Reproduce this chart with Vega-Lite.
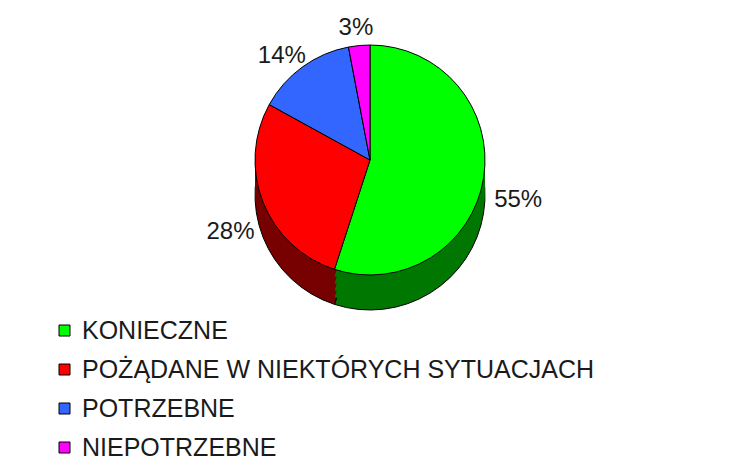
{
  "$schema": "https://vega.github.io/schema/vega-lite/v6.json",
  "width": 740,
  "height": 320,
  "padding": 0,
  "background": "white",
  "config": {"view": {"stroke": null}},
  "data": {
    "values": [
      {"cat": "KONIECZNE", "value": 55, "label": "55%"},
      {"cat": "POŻĄDANE W NIEKTÓRYCH SYTUACJACH", "value": 28, "label": "28%"},
      {"cat": "POTRZEBNE", "value": 14, "label": "14%"},
      {"cat": "NIEPOTRZEBNE", "value": 3, "label": "3%"}
    ]
  },
  "encoding": {
    "theta": {"field": "value", "type": "quantitative", "stack": true},
    "order": {"field": "value", "type": "quantitative", "sort": "descending"}
  },
  "resolve": {"scale": {"color": "independent"}, "legend": {"color": "independent"}},
  "layer": [
    {
      "mark": {"type": "arc", "radius": 115, "yOffset": 35, "stroke": "black", "strokeWidth": 1},
      "encoding": {"color": {"field": "cat", "type": "nominal", "scale": {"domain": ["KONIECZNE", "POŻĄDANE W NIEKTÓRYCH SYTUACJACH", "POTRZEBNE", "NIEPOTRZEBNE"], "range": ["#007700", "#770000", "#1a3380", "#800080"]}, "legend": null}}
    },
    {
      "mark": {"type": "arc", "radius": 115, "yOffset": 28, "strokeWidth": 0},
      "encoding": {"color": {"field": "cat", "type": "nominal", "scale": {"domain": ["KONIECZNE", "POŻĄDANE W NIEKTÓRYCH SYTUACJACH", "POTRZEBNE", "NIEPOTRZEBNE"], "range": ["#007700", "#770000", "#1a3380", "#800080"]}, "legend": null}}
    },
    {
      "mark": {"type": "arc", "radius": 115, "yOffset": 21, "strokeWidth": 0},
      "encoding": {"color": {"field": "cat", "type": "nominal", "scale": {"domain": ["KONIECZNE", "POŻĄDANE W NIEKTÓRYCH SYTUACJACH", "POTRZEBNE", "NIEPOTRZEBNE"], "range": ["#007700", "#770000", "#1a3380", "#800080"]}, "legend": null}}
    },
    {
      "mark": {"type": "arc", "radius": 115, "yOffset": 14, "strokeWidth": 0},
      "encoding": {"color": {"field": "cat", "type": "nominal", "scale": {"domain": ["KONIECZNE", "POŻĄDANE W NIEKTÓRYCH SYTUACJACH", "POTRZEBNE", "NIEPOTRZEBNE"], "range": ["#007700", "#770000", "#1a3380", "#800080"]}, "legend": null}}
    },
    {
      "mark": {"type": "arc", "radius": 115, "yOffset": 7, "strokeWidth": 0},
      "encoding": {"color": {"field": "cat", "type": "nominal", "scale": {"domain": ["KONIECZNE", "POŻĄDANE W NIEKTÓRYCH SYTUACJACH", "POTRZEBNE", "NIEPOTRZEBNE"], "range": ["#007700", "#770000", "#1a3380", "#800080"]}, "legend": null}}
    },
    {
      "mark": {"type": "arc", "radius": 115, "stroke": "black", "strokeWidth": 1, "opacity": 1},
      "encoding": {
        "color": {
          "field": "cat",
          "type": "nominal",
          "scale": {"domain": ["KONIECZNE", "POŻĄDANE W NIEKTÓRYCH SYTUACJACH", "POTRZEBNE", "NIEPOTRZEBNE"], "range": ["#00ff00", "#ff0000", "#3366ff", "#ff00ff"]},
          "legend": {
            "orient": "none",
            "legendX": 52,
            "legendY": 318,
            "title": null,
            "symbolType": "square",
            "symbolSize": 121,
            "symbolStrokeColor": "black",
            "symbolStrokeWidth": 1,
            "symbolOpacity": 1,
            "labelFont": "Liberation Sans",
            "labelFontSize": 25,
            "labelColor": "#1a1a1a",
            "labelOffset": 5,
            "labelLimit": 700,
            "rowPadding": 13
          }
        }
      }
    },
    {
      "mark": {"type": "text", "radius": 150, "yOffset": 17, "font": "Liberation Sans", "fontSize": 24, "color": "#1a1a1a"},
      "encoding": {"text": {"field": "label", "type": "nominal"}}
    }
  ]
}
